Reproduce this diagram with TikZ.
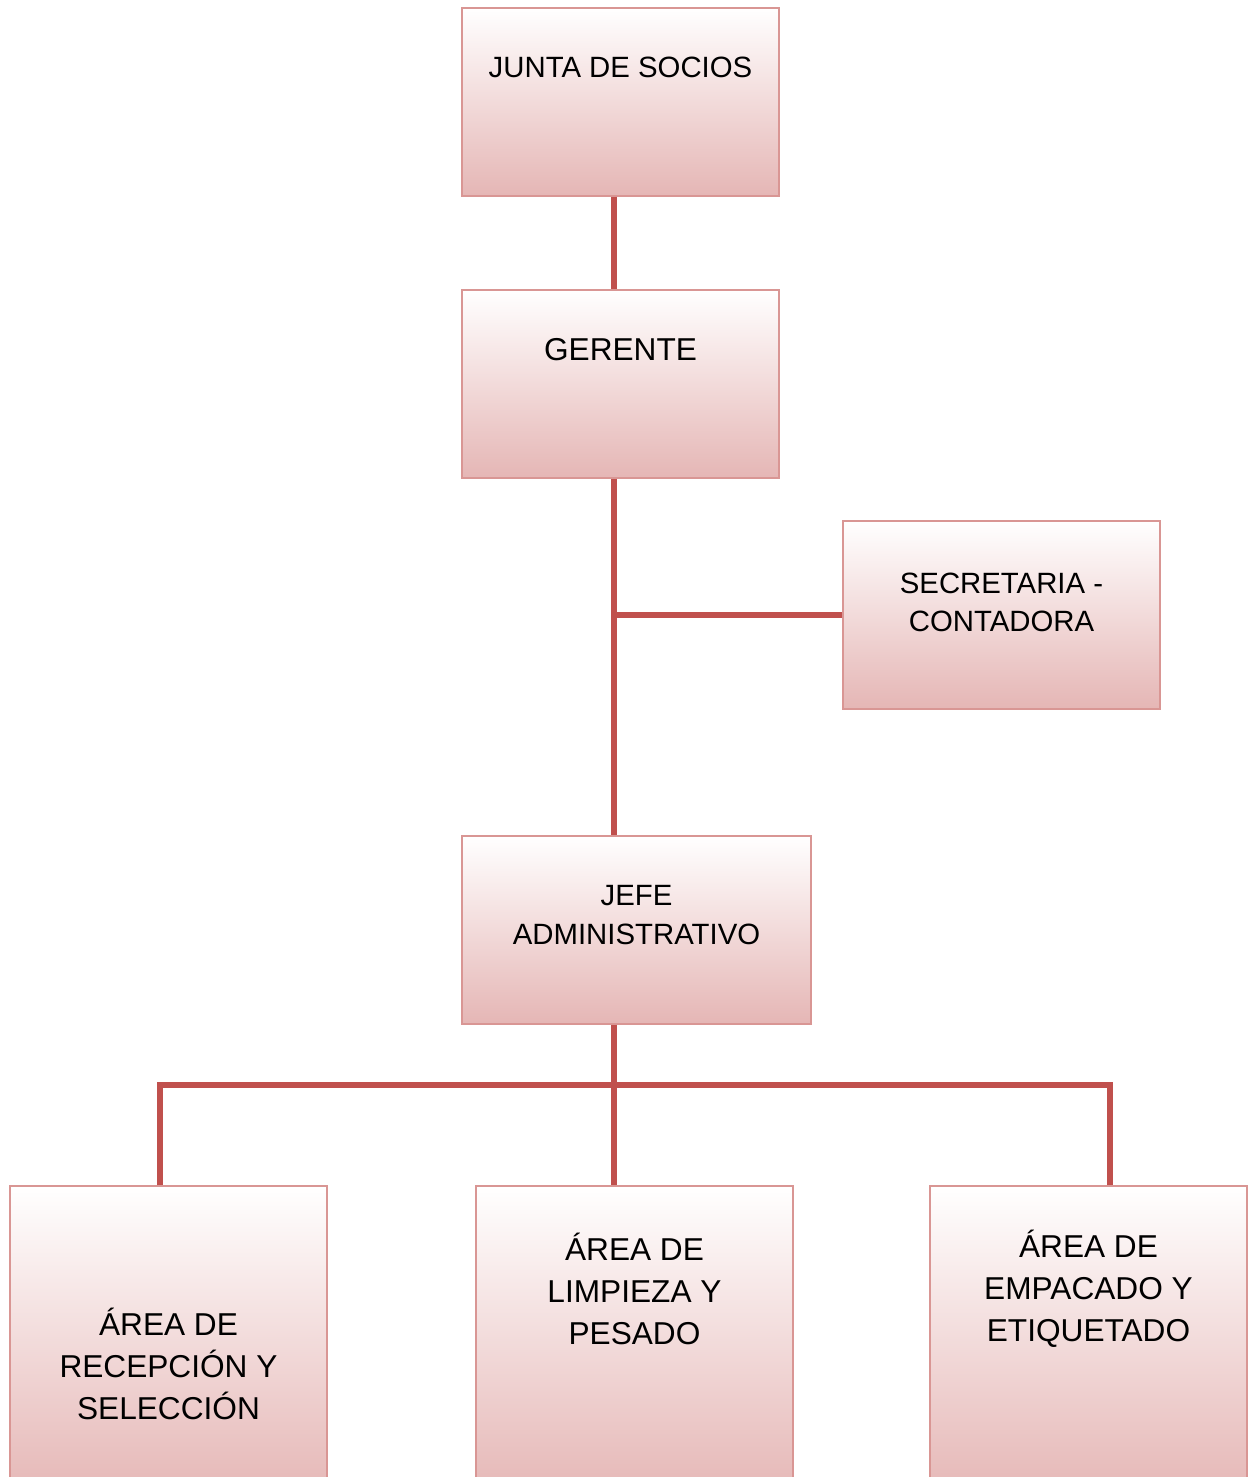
\documentclass[tikz,border=0pt]{standalone}
\usepackage{fontspec}
\setmainfont{Liberation Sans}
\usetikzlibrary{calc}
\definecolor{boxborder}{RGB}{217,150,148}
\definecolor{boxbottom}{RGB}{229,182,181}
\definecolor{linkred}{RGB}{192,80,77}
\tikzset{
  orgbox/.style={rectangle, draw=boxborder, line width=1.1pt,
    top color=white, bottom color=boxbottom, inner sep=0pt},
  smallbox/.style={orgbox, minimum width=6.34cm, minimum height=3.76cm},
  widebox/.style={orgbox, minimum width=6.98cm, minimum height=3.76cm},
  tallbox/.style={orgbox, minimum width=6.34cm, minimum height=6.28cm},
  boxtext/.style={align=center, inner sep=0pt, text=black},
  txtA/.style={boxtext, font=\fontsize{16.7}{21.8}\selectfont},
  txtB/.style={boxtext, font=\fontsize{18}{23.8}\selectfont},
  link/.style={draw=linkred, line width=2.9pt}
}
\begin{document}
\begin{tikzpicture}
\fill[white] (0,0) rectangle (25.1,-29.54);
\useasboundingbox (0,0) rectangle (25.1,-29.54);
\clip (0,0) rectangle (25.1,-29.54);

% boxes
\node[smallbox] (junta) at (12.41,-2.04) {};
\node[smallbox] (gerente) at (12.41,-7.68) {};
\node[smallbox] (secre) at (20.03,-12.30) {};
\node[widebox] (jefe) at (12.73,-18.60) {};
\node[tallbox] (recep) at (3.37,-26.86) {};
\node[tallbox] (limp) at (12.69,-26.86) {};
\node[tallbox] (empa) at (21.77,-26.86) {};

% labels
\node[txtA] (tjunta) at (12.41,-1.34) {JUNTA DE SOCIOS};
\node[txtB] (tgerente) at (12.41,-7.00) {GERENTE};
\node[txtA] (tsecre) at (20.03,-12.05) {SECRETARIA -\\CONTADORA};
\node[txtA] (tjefe) at (12.73,-18.30) {JEFE\\ADMINISTRATIVO};
\node[txtB] (trecep) at (3.37,-27.28) {ÁREA DE\\RECEPCIÓN Y\\SELECCIÓN};
\node[txtB] (tlimp) at (12.69,-25.78) {ÁREA DE\\LIMPIEZA Y\\PESADO};
\node[txtB] (tempa) at (21.77,-25.78) {ÁREA DE\\EMPACADO Y\\ETIQUETADO};

% connector routing points
\coordinate (trunk) at (12.28,0);
\coordinate (bus) at (0,-21.70);
\coordinate (legL) at (3.20,0);
\coordinate (legR) at (22.20,0);

% connectors
\draw[link] (junta.south -| trunk) -- (gerente.north -| trunk);
\draw[link] (gerente.south -| trunk) -- (jefe.north -| trunk);
\draw[link] (secre.west) -- (secre.west -| trunk);
\draw[link] (jefe.south -| trunk) -- (limp.north -| trunk);
\draw[link] (recep.north -| legL) -- (legL |- bus) -- (legR |- bus) -- (empa.north -| legR);
\end{tikzpicture}
\end{document}
